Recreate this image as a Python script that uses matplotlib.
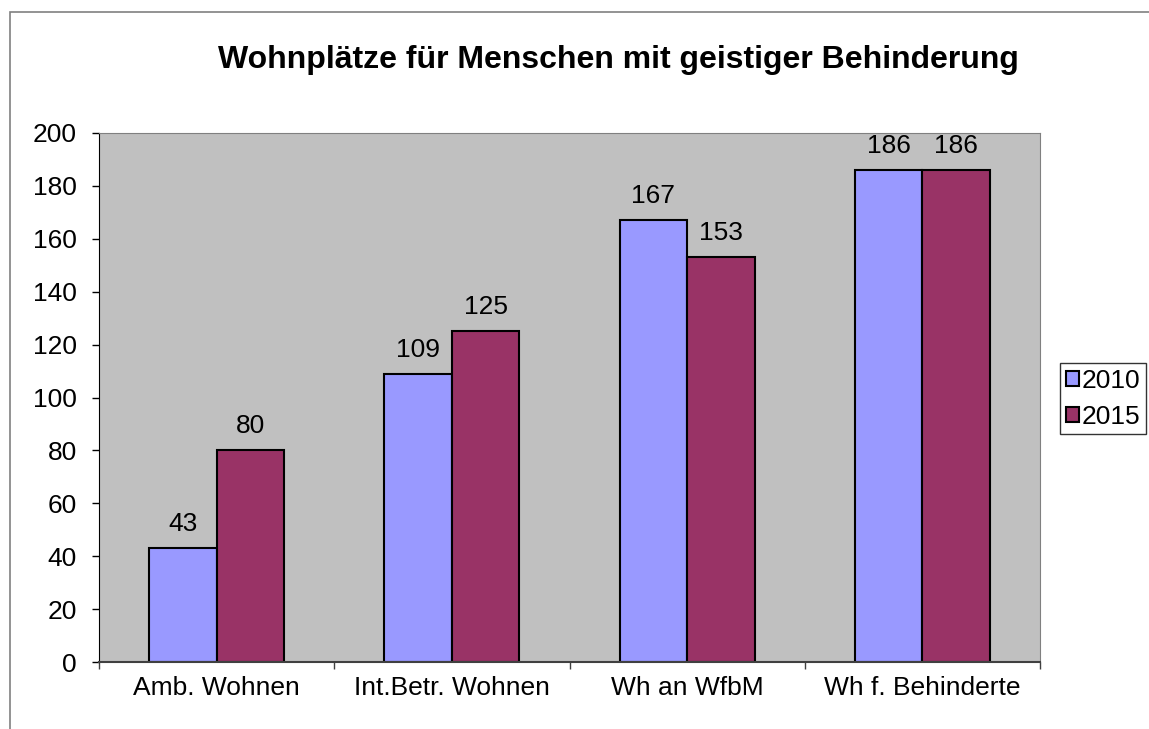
import matplotlib.pyplot as plt
import numpy as np
from matplotlib.patches import Rectangle

plt.rcParams['font.family'] = ['Liberation Sans', 'DejaVu Sans']

## Data
categories = ['Amb. Wohnen', 'Int.Betr. Wohnen', 'Wh an WfbM', 'Wh f. Behinderte']
years = ['2010', '2015']
values_2010 = [43, 109, 167, 186]
values_2015 = [80, 125, 153, 186]
colors = ['#9999FF', '#993366']

fig = plt.figure(figsize=(11.49, 7.29), dpi=100)
W, H = 1149, 729
# outer chart border (runs off the right and bottom edge)
fig.patches.append(Rectangle((10 / W, -0.1), 1.2, 1 - 12 / H + 0.1, transform=fig.transFigure,
                             fill=False, edgecolor='#808080', linewidth=1.2))

ax = fig.add_axes([99 / W, 1 - 662 / H, (1040 - 99) / W, (662 - 133) / H])
ax.set_facecolor('#C0C0C0')

x = np.arange(len(categories))
bw = 0.287
bars1 = ax.bar(x - bw / 2, values_2010, bw, color=colors[0], edgecolor='black', linewidth=1.5, label=years[0])
bars2 = ax.bar(x + bw / 2, values_2015, bw, color=colors[1], edgecolor='black', linewidth=1.5, label=years[1])

for bars in (bars1, bars2):
    for b in bars:
        ax.text(b.get_x() + b.get_width() / 2, b.get_height() + 4.5, str(int(b.get_height())),
                ha='center', va='bottom', fontsize=19)

ax.set_xlim(-0.5, len(categories) - 0.5)
ax.set_ylim(0, 200)
ax.set_yticks(range(0, 201, 20))
ax.tick_params(axis='y', labelsize=19, length=5, width=1, direction='out', pad=11)
ax.set_xticks(x)
ax.set_xticklabels(categories, fontsize=19)
ax.tick_params(axis='x', length=0, pad=10)
# category boundary ticks
ax.set_xticks(np.arange(-0.5, len(categories), 1), minor=True)
ax.tick_params(axis='x', which='minor', length=5, width=1, direction='out', color='#404040')

for s in ['top', 'right']:
    ax.spines[s].set_color('#808080')
ax.spines['bottom'].set_color('#404040')
ax.spines['bottom'].set_linewidth(1.5)
ax.spines['left'].set_color('black')

fig.text(0.5 * (218 + 1018) / W, 1 - 60 / H, 'Wohnplätze für Menschen mit geistiger Behinderung',
         ha='center', va='center', fontsize=23, fontweight='bold')

leg = fig.legend(handles=[bars1, bars2], labels=years, loc='upper left',
                 bbox_to_anchor=(1060 / W, 1 - 363 / H), fontsize=19, frameon=True,
                 fancybox=False, edgecolor='black', handlelength=0.5, handleheight=0.5,
                 handletextpad=0.1, borderpad=0.22, labelspacing=0.45, borderaxespad=0)
leg.get_frame().set_linewidth(1)

fig.savefig('out.png', dpi=100)
